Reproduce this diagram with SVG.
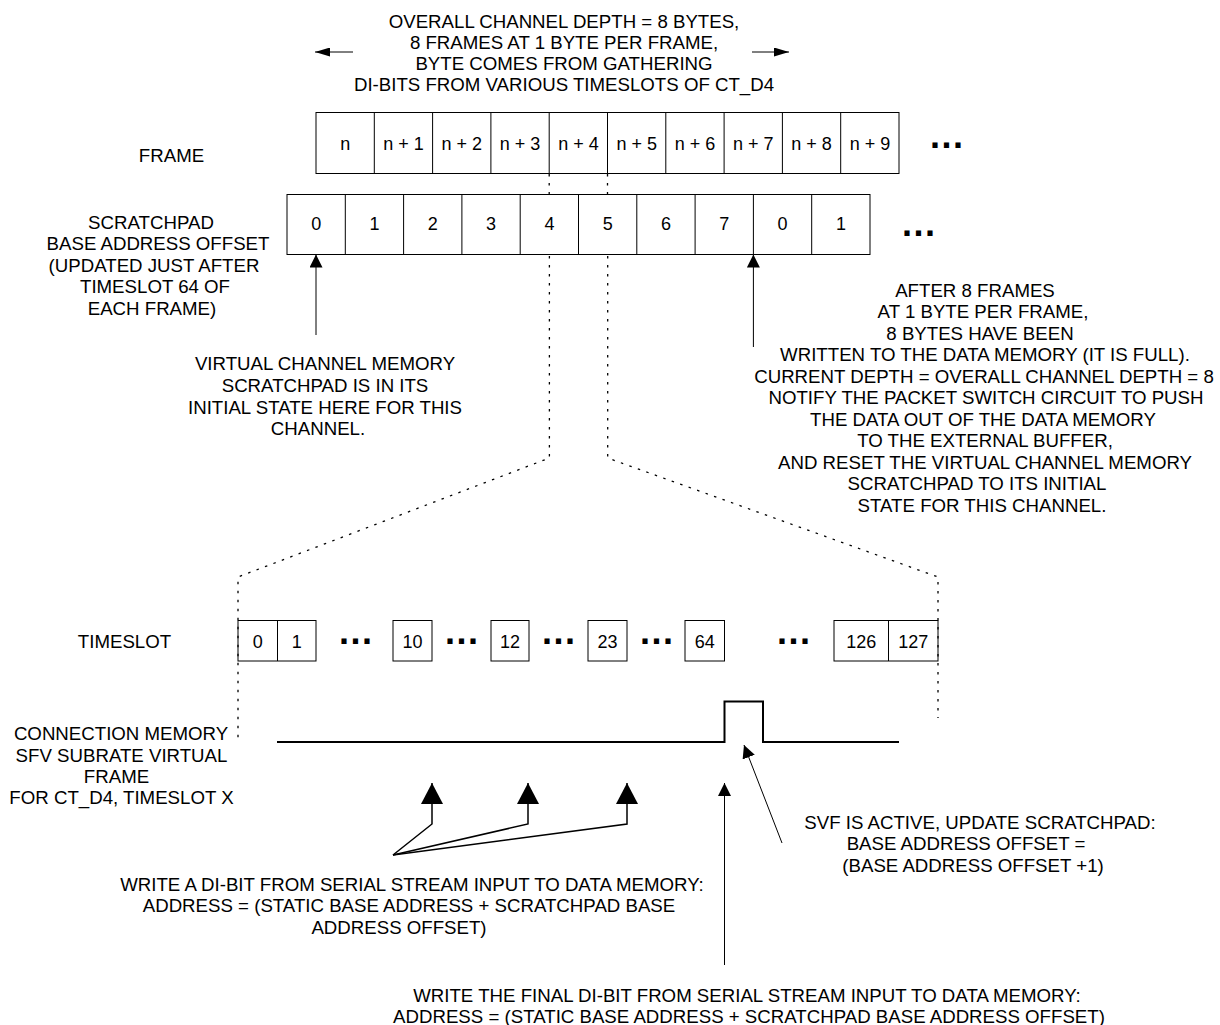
<svg xmlns="http://www.w3.org/2000/svg" width="1220" height="1025" viewBox="0 0 1220 1025">
<style>
text{font-family:"Liberation Sans",Arial,sans-serif;font-size:18.67px;fill:#000}
.m{text-anchor:middle}
.c{font-size:18px;text-anchor:middle}
.dots{font-size:36px;font-weight:bold;letter-spacing:1.5px}
.cell{fill:#fff;stroke:#000;stroke-width:1}
.ln{fill:none;stroke:#000;stroke-width:1}
.dot{fill:none;stroke:#000;stroke-width:1.3;stroke-dasharray:2.5 6.5}
.sig{fill:none;stroke:#000;stroke-width:2}
</style>
<defs>
<marker id="ahS" markerUnits="userSpaceOnUse" markerWidth="13" markerHeight="13" viewBox="0 0 13 13" refX="13" refY="6.5" orient="auto"><path d="M0,0 L13,6.5 L0,13 z" fill="#000"/></marker>
<marker id="ahB" markerUnits="userSpaceOnUse" markerWidth="21" markerHeight="22" viewBox="0 0 21 22" refX="21" refY="11" orient="auto"><path d="M0,0 L21,11 L0,22 z" fill="#000"/></marker>
<marker id="ahH" markerUnits="userSpaceOnUse" markerWidth="15" markerHeight="9" viewBox="0 0 15 9" refX="15" refY="4.5" orient="auto"><path d="M0,0 L15,4.5 L0,9 z" fill="#000"/></marker>
</defs>

<g id="depth-note">
<text class="m" x="564" y="28">OVERALL CHANNEL DEPTH = 8 BYTES,</text>
<text class="m" x="564" y="49">8 FRAMES AT 1 BYTE PER FRAME,</text>
<text class="m" x="564" y="70">BYTE COMES FROM GATHERING</text>
<text class="m" x="564" y="91">DI-BITS FROM VARIOUS TIMESLOTS OF CT_D4</text>
</g>

<g id="frame-label"><text class="m" x="171.5" y="161.5">FRAME</text></g>

<g id="frame-row">
<rect class="cell" x="316" y="112.5" width="583" height="61"/>
<path class="ln" d="M374.3,112.5V173.5M432.6,112.5V173.5M490.9,112.5V173.5M549.2,112.5V173.5M607.5,112.5V173.5M665.8,112.5V173.5M724.1,112.5V173.5M782.4,112.5V173.5M840.7,112.5V173.5"/>
<text class="c" x="345.2" y="150">n</text>
<text class="c" x="403.5" y="150">n + 1</text>
<text class="c" x="461.8" y="150">n + 2</text>
<text class="c" x="520.1" y="150">n + 3</text>
<text class="c" x="578.4" y="150">n + 4</text>
<text class="c" x="636.7" y="150">n + 5</text>
<text class="c" x="695" y="150">n + 6</text>
<text class="c" x="753.3" y="150">n + 7</text>
<text class="c" x="811.6" y="150">n + 8</text>
<text class="c" x="869.9" y="150">n + 9</text>
<text class="dots" x="930" y="148">...</text>
</g>

<g id="scratchpad-label">
<text class="m" x="151" y="228.5">SCRATCHPAD</text>
<text class="m" x="158" y="250">BASE ADDRESS OFFSET</text>
<text class="m" x="154" y="271.5">(UPDATED JUST AFTER</text>
<text class="m" x="155" y="293">TIMESLOT 64 OF</text>
<text class="m" x="152" y="314.5">EACH FRAME)</text>
</g>

<g id="scratchpad-row">
<rect class="cell" x="287" y="194.5" width="583" height="60"/>
<path class="ln" d="M345.3,194.5V254.5M403.6,194.5V254.5M461.9,194.5V254.5M520.2,194.5V254.5M578.5,194.5V254.5M636.8,194.5V254.5M695.1,194.5V254.5M753.4,194.5V254.5M811.7,194.5V254.5"/>
<text class="c" x="316.2" y="230">0</text>
<text class="c" x="374.5" y="230">1</text>
<text class="c" x="432.8" y="230">2</text>
<text class="c" x="491.1" y="230">3</text>
<text class="c" x="549.4" y="230">4</text>
<text class="c" x="607.7" y="230">5</text>
<text class="c" x="666" y="230">6</text>
<text class="c" x="724.3" y="230">7</text>
<text class="c" x="782.6" y="230">0</text>
<text class="c" x="840.9" y="230">1</text>
<text class="dots" x="902" y="236">...</text>
</g>

<g id="initial-state-note">
<text class="m" x="325" y="369.5">VIRTUAL CHANNEL MEMORY</text>
<text class="m" x="325" y="391.5">SCRATCHPAD IS IN ITS</text>
<text class="m" x="325" y="413.5">INITIAL STATE HERE FOR THIS</text>
<text class="m" x="318" y="435">CHANNEL.</text>
</g>

<g id="full-note">
<text class="m" x="975" y="296.5">AFTER 8 FRAMES</text>
<text class="m" x="983" y="318">AT 1 BYTE PER FRAME,</text>
<text class="m" x="980" y="339.5">8 BYTES HAVE BEEN</text>
<text class="m" x="985" y="361">WRITTEN TO THE DATA MEMORY (IT IS FULL).</text>
<text class="m" x="984" y="382.5">CURRENT DEPTH = OVERALL CHANNEL DEPTH = 8</text>
<text class="m" x="986" y="404">NOTIFY THE PACKET SWITCH CIRCUIT TO PUSH</text>
<text class="m" x="983" y="425.5">THE DATA OUT OF THE DATA MEMORY</text>
<text class="m" x="985" y="447">TO THE EXTERNAL BUFFER,</text>
<text class="m" x="985" y="468.5">AND RESET THE VIRTUAL CHANNEL MEMORY</text>
<text class="m" x="977" y="490">SCRATCHPAD TO ITS INITIAL</text>
<text class="m" x="982" y="511.5">STATE FOR THIS CHANNEL.</text>
</g>

<g id="timeslot-label"><text class="m" x="124.5" y="648">TIMESLOT</text></g>

<g id="timeslot-row">
<rect class="cell" x="238" y="620.5" width="78" height="40.5"/>
<path class="ln" d="M277.5,620.5V661"/>
<rect class="cell" x="393" y="620.5" width="39" height="40.5"/>
<rect class="cell" x="491" y="620.5" width="38" height="40.5"/>
<rect class="cell" x="588" y="620.5" width="39" height="40.5"/>
<rect class="cell" x="685" y="620.5" width="39.5" height="40.5"/>
<rect class="cell" x="834" y="620.5" width="104" height="40.5"/>
<path class="ln" d="M888.5,620.5V661"/>
<text class="c" x="257.8" y="648">0</text>
<text class="c" x="296.8" y="648">1</text>
<text class="c" x="412.5" y="648">10</text>
<text class="c" x="510" y="648">12</text>
<text class="c" x="607.5" y="648">23</text>
<text class="c" x="704.8" y="648">64</text>
<text class="c" x="861.3" y="648">126</text>
<text class="c" x="913.3" y="648">127</text>
<text class="dots" x="339" y="644">...</text>
<text class="dots" x="445" y="644">...</text>
<text class="dots" x="542" y="644">...</text>
<text class="dots" x="640" y="644">...</text>
<text class="dots" x="777" y="644">...</text>
</g>

<g id="svf-label">
<text class="m" x="121" y="739.5">CONNECTION MEMORY</text>
<text class="m" x="121.5" y="761.5">SFV SUBRATE VIRTUAL</text>
<text class="m" x="116.5" y="782.5">FRAME</text>
<text class="m" x="121.5" y="804">FOR CT_D4, TIMESLOT X</text>
</g>

<g id="svf-signal">
<path class="sig" d="M277,742H724.5V701.5H763V742H899"/>
</g>

<g id="write-note">
<text class="m" x="412" y="890.5">WRITE A DI-BIT FROM SERIAL STREAM INPUT TO DATA MEMORY:</text>
<text class="m" x="409" y="912">ADDRESS = (STATIC BASE ADDRESS + SCRATCHPAD BASE</text>
<text class="m" x="399" y="933.5">ADDRESS OFFSET)</text>
</g>

<g id="update-note">
<text class="m" x="980" y="828.5">SVF IS ACTIVE, UPDATE SCRATCHPAD:</text>
<text class="m" x="966" y="850">BASE ADDRESS OFFSET =</text>
<text class="m" x="973" y="871.5">(BASE ADDRESS OFFSET +1)</text>
</g>

<g id="final-write-note">
<text class="m" x="747" y="1001.5">WRITE THE FINAL DI-BIT FROM SERIAL STREAM INPUT TO DATA MEMORY:</text>
<text class="m" x="749" y="1023">ADDRESS = (STATIC BASE ADDRESS + SCRATCHPAD BASE ADDRESS OFFSET)</text>
</g>

<g id="connectors">
<path class="ln" d="M353,52H315" marker-end="url(#ahH)"/>
<path class="ln" d="M752,52H789" marker-end="url(#ahH)"/>
<path class="ln" d="M316,335V254.5" marker-end="url(#ahS)"/>
<path class="ln" d="M753.4,347V254.5" marker-end="url(#ahS)"/>
<path class="dot" d="M549.2,174V194"/>
<path class="dot" d="M607.5,174V194"/>
<path class="dot" d="M549.4,256V458L238,577V738"/>
<path class="dot" d="M607.7,256V458L938,577V718"/>
<path class="ln" style="stroke-width:1.5" d="M393,855L432,824V783" marker-end="url(#ahB)"/>
<path class="ln" style="stroke-width:1.5" d="M393,855L528,824V783" marker-end="url(#ahB)"/>
<path class="ln" style="stroke-width:1.5" d="M393,855L627,824V783" marker-end="url(#ahB)"/>
<path class="ln" d="M724.5,965V783" marker-end="url(#ahS)"/>
<path class="ln" d="M782,843L744,745" marker-end="url(#ahS)"/>
</g>
</svg>
